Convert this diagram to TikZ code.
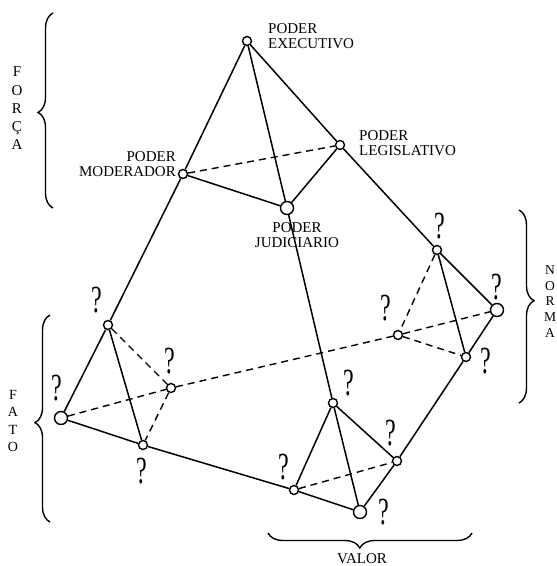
\documentclass[tikz,border=0pt]{standalone}
\usepackage{fontspec}
\setmainfont{Liberation Serif}
\usepackage{graphicx}
\usepackage{tikz}
\usetikzlibrary{decorations.pathreplacing}
\newcommand{\qmark}{\scalebox{1}[1.6]{?}}

\begin{document}
\begin{tikzpicture}[x=1pt,y=-1pt,
    vtx/.style={circle,draw,line width=1.4pt,fill=white,inner sep=0pt,minimum size=9pt},
    bigvtx/.style={vtx,minimum size=13pt},
    solidln/.style={line width=1.5pt},
    hiddenln/.style={line width=1.4pt,dash pattern=on 7pt off 5pt},
    lbl/.style={inner sep=0pt,font=\fontsize{15}{15}\selectfont},
    qm/.style={inner sep=0pt,font=\fontsize{24}{24}\selectfont},
    brc/.style={decorate,line width=1.4pt,decoration={brace,amplitude=15pt,aspect=#1}}]
  \useasboundingbox (0,0) rectangle (557,566);

  % the four powers
  \node[vtx] (exe) at (247,41) {};
  \node[vtx] (mod) at (183,174) {};
  \node[vtx] (leg) at (340,145) {};
  \node[bigvtx] (jud) at (287,208) {};
  \node[lbl,anchor=west,align=left] (lexe) at (268,36) {PODER\\EXECUTIVO};
  \node[lbl,anchor=west,align=left] (lleg) at (359,143) {PODER\\LEGISLATIVO};
  \node[lbl,anchor=east,align=right] (lmod) at (176,164) {PODER\\MODERADOR};
  \node[lbl,align=center] (ljud) at (297,235) {PODER\\JUDICIARIO};

  % fato
  \node[vtx] (fa) at (108,325) {};
  \node[bigvtx] (fb) at (61,418) {};
  \node[vtx] (fc) at (171,388) {};
  \node[vtx] (fd) at (143,445) {};
  % valor
  \node[vtx] (va) at (333,403) {};
  \node[vtx] (vb) at (294,490) {};
  \node[vtx] (vc) at (397,461) {};
  \node[bigvtx] (vd) at (360,512) {};
  % norma
  \node[vtx] (na) at (437,250) {};
  \node[vtx] (nb) at (398,335) {};
  \node[bigvtx] (nc) at (497,310) {};
  \node[vtx] (nd) at (466,357) {};

  \node[qm] (qfa) at (97,300) {\qmark};
  \node[qm] (qfb) at (57,388) {\qmark};
  \node[qm] (qfc) at (170,361) {\qmark};
  \node[qm] (qfd) at (142,471) {\qmark};
  \node[qm] (qva) at (349,383) {\qmark};
  \node[qm] (qvb) at (284,467) {\qmark};
  \node[qm] (qvc) at (391,433) {\qmark};
  \node[qm] (qvd) at (384,512) {\qmark};
  \node[qm] (qna) at (440,226) {\qmark};
  \node[qm] (qnb) at (386,308) {\qmark};
  \node[qm] (qnc) at (497,287) {\qmark};
  \node[qm] (qnd) at (486,361) {\qmark};

  \draw[solidln] (exe) -- (mod) (exe) -- (jud) (exe) -- (leg) (leg) -- (na)
    (mod) -- (jud) (leg) -- (jud) (mod) -- (fa) (jud) -- (va);
  \draw[hiddenln] (mod) -- (leg);
  \draw[solidln] (fa) -- (fb) (fa) -- (fd) (fb) -- (fd) (fd) -- (vb);
  \draw[hiddenln] (fa) -- (fc) (fc) -- (fd) (fb) -- (fc) (fc) -- (nb);
  \draw[solidln] (va) -- (vb) (va) -- (vd) (va) -- (vc) (vb) -- (vd) (vd) -- (vc) (vc) -- (nd);
  \draw[hiddenln] (vb) -- (vc);
  \draw[solidln] (na) -- (nc) (na) -- (nd) (nc) -- (nd);
  \draw[hiddenln] (na) -- (nb) (nb) -- (nd) (nb) -- (nc);

  % braces
  \draw[brc=0.49] (53,208) -- (53,13);
  \draw[brc=0.48] (50,522) -- (50,315);
  \draw[brc=0.47] (519,210) -- (519,403);
  \draw[brc=0.55] (472,533) -- (268,533);
  \node[inner sep=0pt,align=center,font=\fontsize{15}{18.25}\selectfont] (forca) at (17,108.5) {F\\O\\R\\Ç\\A};
  \node[inner sep=0pt,align=center,font=\fontsize{14}{17.3}\selectfont] (fato) at (13,421) {F\\A\\T\\O};
  \node[inner sep=0pt,align=center,font=\fontsize{13.5}{15.75}\selectfont] (norma) at (550,301.5) {N\\O\\R\\M\\A};
  \node[lbl] (valor) at (362,559) {VALOR};
\end{tikzpicture}
\end{document}
